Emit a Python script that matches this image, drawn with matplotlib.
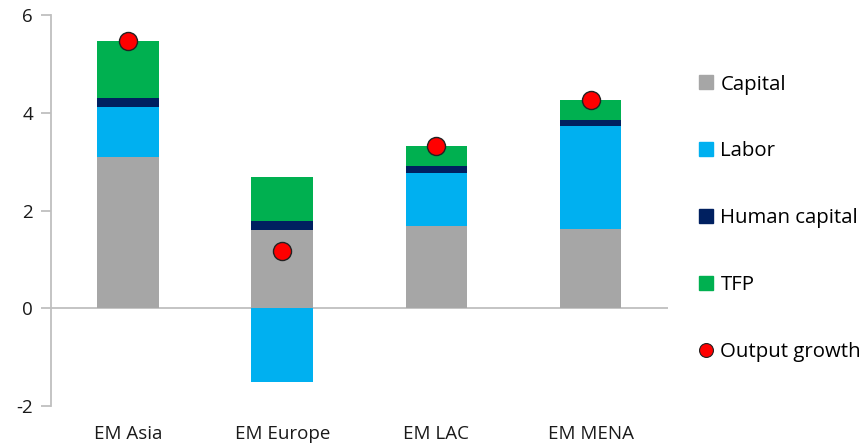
import numpy as np
import matplotlib.pyplot as plt
from matplotlib.lines import Line2D

plt.rcParams["font.family"] = ["Open Sans", "DejaVu Sans"]

regions = ["EM Asia", "EM Europe", "EM LAC", "EM MENA"]
capital = [3.09, 1.60, 1.69, 1.62]
labor = [1.03, -1.51, 1.07, 2.10]
human_capital = [0.19, 0.19, 0.16, 0.14]
tfp = [1.15, 0.90, 0.39, 0.41]
output_growth = [5.47, 1.18, 3.32, 4.26]

series = [
    ("Capital", capital, "#A6A6A6"),
    ("Labor", labor, "#00B0F0"),
    ("Human capital", human_capital, "#002060"),
    ("TFP", tfp, "#00B050"),
]

fig = plt.figure(figsize=(8.67, 4.44), dpi=100)
ax = fig.add_axes([0.0588, 0.0856, 0.7112, 0.8806])

x = np.arange(len(regions))
pos_bottom = np.zeros(len(regions))
neg_bottom = np.zeros(len(regions))
for name, vals, color in series:
    vals = np.array(vals, dtype=float)
    bottom = np.where(vals >= 0, pos_bottom, neg_bottom)
    ax.bar(x, vals, width=0.4, bottom=bottom, color=color, zorder=2)
    pos_bottom += np.where(vals >= 0, vals, 0)
    neg_bottom += np.where(vals < 0, vals, 0)

ax.plot(x, output_growth, linestyle="none", marker="o", markersize=13,
        markerfacecolor="#FF0000", markeredgecolor="#222222", markeredgewidth=1.0, zorder=3)

ax.axhline(0, color="#BFBFBF", linewidth=1.3, zorder=1)
ax.set_xlim(-0.5, 3.5)
ax.set_ylim(-2, 6)
ax.set_yticks([-2, 0, 2, 4, 6])
ax.set_yticklabels(["-2", "0", "2", "4", "6"])
ax.set_xticks(x)
ax.set_xticklabels(regions)
for s in ["top", "right", "bottom"]:
    ax.spines[s].set_visible(False)
ax.spines["left"].set_color("#BFBFBF")
ax.spines["left"].set_linewidth(1.3)
ax.tick_params(axis="y", length=7, width=1.3, color="#BFBFBF", labelsize=13.5, pad=6, labelcolor="#1a1a1a")
ax.tick_params(axis="x", length=0, labelsize=13.5, pad=14, labelcolor="#1a1a1a")

handles = [Line2D([], [], linestyle="none", marker="s", markersize=9.5,
                  markerfacecolor=c, markeredgecolor=c) for _, _, c in series]
handles.append(Line2D([], [], linestyle="none", marker="o", markersize=10,
                      markerfacecolor="#FF0000", markeredgecolor="#222222", markeredgewidth=0.8))
labels = [n for n, _, _ in series] + ["Output growth"]
fig.legend(handles, labels, loc="center left", bbox_to_anchor=(0.805, 0.508),
           frameon=False, fontsize=14.7, labelspacing=2.3, handlelength=0.8,
           handletextpad=0.3, borderpad=0, borderaxespad=0)

fig.savefig("out.png", dpi=100)
